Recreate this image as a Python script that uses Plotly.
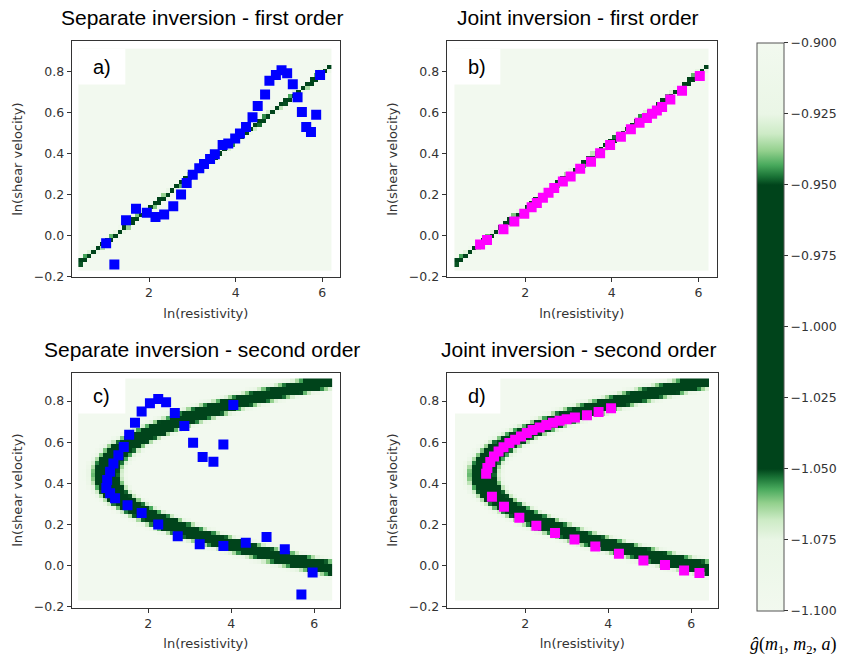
import numpy as np
import plotly.graph_objects as go

# ---------------------------------------------------------------
# Petrophysical relations between m1 = ln(resistivity) and
# m2 = ln(shear velocity)
# ---------------------------------------------------------------
LINE_INTERCEPT = -0.198      # first order: m2 = a0 + a1*m1
LINE_SLOPE = 0.1645
PARAB_X0 = 0.98              # second order: m1 = x0 + c*(m2 - y0)^2
PARAB_Y0 = 0.443
PARAB_C = 26.0

# ---------------------------------------------------------------
# Inversion results (m1, m2 pairs)
# ---------------------------------------------------------------
sep1_x = [1.01, 1.20, 1.47, 1.70, 1.95, 2.15, 2.35, 2.56, 2.74, 2.87, 3.01,
          3.16, 3.27, 3.41, 3.52, 3.70, 3.83, 3.99, 4.10, 4.24, 4.39, 4.51,
          4.68, 4.78, 4.93, 5.06, 5.19, 5.32, 5.43, 5.53, 5.63, 5.74, 5.86,
          5.95]
sep1_y = [-0.038, -0.142, 0.073, 0.129, 0.110, 0.089, 0.102, 0.142, 0.199,
          0.255, 0.295, 0.327, 0.348, 0.372, 0.395, 0.440, 0.448, 0.472,
          0.496, 0.528, 0.576, 0.630, 0.686, 0.753, 0.781, 0.805, 0.790,
          0.737, 0.673, 0.601, 0.528, 0.504, 0.588, 0.781]

joint1_x = [0.96, 1.12, 1.50, 1.75, 1.98, 2.15, 2.27, 2.41, 2.54, 2.67, 2.87,
            3.05, 3.27, 3.52, 3.73, 3.96, 4.21, 4.44, 4.64, 4.81, 4.93, 5.04,
            5.16, 5.35, 5.62, 6.03]
joint1_y = [-0.045, -0.023, 0.030, 0.067, 0.105, 0.137, 0.158, 0.183, 0.207,
            0.231, 0.263, 0.287, 0.324, 0.359, 0.400, 0.440, 0.480, 0.517,
            0.549, 0.572, 0.593, 0.609, 0.625, 0.662, 0.705, 0.777]

sep2_x = [2.04, 2.24, 2.43, 1.84, 1.68, 1.54, 1.41, 1.28, 1.16, 1.08, 1.01,
          0.99, 1.08, 1.20, 1.50, 1.84, 2.24, 2.71, 3.24, 3.81, 4.35, 4.85,
          5.29, 5.96, 5.69, 2.64, 2.87, 3.08, 3.31, 3.57, 3.81, 4.05]
sep2_y = [0.790, 0.810, 0.794, 0.749, 0.694, 0.636, 0.576, 0.536, 0.496,
          0.456, 0.416, 0.376, 0.351, 0.327, 0.292, 0.255, 0.199, 0.142,
          0.102, 0.094, 0.110, 0.138, 0.078, -0.035, -0.142, 0.742, 0.678,
          0.597, 0.528, 0.504, 0.588, 0.781]

joint2_x = [1.06, 1.09, 1.16, 1.25, 1.36, 1.48, 1.62, 1.76, 1.90, 2.04, 2.18,
            2.35, 2.51, 2.67, 2.83, 3.00, 3.20, 3.49, 3.77, 4.07,
            1.20, 1.49, 1.86, 2.27, 2.72, 3.19, 3.69, 4.26, 4.85, 5.37, 5.83,
            6.20]
joint2_y = [0.446, 0.474, 0.503, 0.530, 0.554, 0.575, 0.596, 0.612, 0.628,
            0.644, 0.659, 0.671, 0.683, 0.694, 0.704, 0.712, 0.720, 0.731,
            0.747, 0.765,
            0.334, 0.285, 0.232, 0.192, 0.157, 0.125, 0.092, 0.056, 0.023,
            0.001, -0.025, -0.038]

# colour bar of the relation misfit g(m1, m2, a)
cbar_vals = [-0.9, -0.925, -0.95, -0.975, -1.0, -1.025, -1.05, -1.075, -1.1]
cbar_text = ["\u22120.900", "\u22120.925", "\u22120.950", "\u22120.975",
             "\u22121.000", "\u22121.025", "\u22121.050", "\u22121.075",
             "\u22121.100"]

panel_titles = ["Separate inversion - first order",
                "Joint inversion - first order",
                "Separate inversion - second order",
                "Joint inversion - second order"]
panel_tags = ["a)", "b)", "c)", "d)"]

# ---------------------------------------------------------------
# Figure geometry (pixels)
# ---------------------------------------------------------------
W, H = 844, 668


def fx(px):
    return px / W


def fy(py):
    return 1 - py / H


frames = [  # x0, x1, y0(top), y1(bottom)
    (71.7, 340.0, 41.7, 280.0),
    (446.7, 716.7, 41.7, 280.0),
    (71.7, 340.0, 376.7, 614.0),
    (446.7, 717.7, 376.7, 614.0),
]
xranges = [[0.215, 6.41], [0.19, 6.42], [0.155, 6.62], [0.11, 6.64]]
yranges = [[-0.2034, 0.946], [-0.2034, 0.946], [-0.206, 0.938], [-0.206, 0.938]]
CBAR_TOP, CBAR_BOTTOM = 43.3, 611.0
TAG_W, TAG_H = 47, 36


# ---------------------------------------------------------------
# Misfit surfaces
# ---------------------------------------------------------------
def grid(x0, x1, nx, y0, y1, ny):
    xs = np.linspace(x0, x1, nx)
    ys = np.linspace(y0, y1, ny)
    X, Y = np.meshgrid(xs, ys)
    return xs, ys, X, Y


def g_linear(X, Y):
    d = Y - (LINE_INTERCEPT + LINE_SLOPE * X)
    return np.clip(-1.0 + 4.6 * d, -1.1, -0.9)


def g_quadratic(X, Y):
    F = X - (PARAB_X0 + PARAB_C * (Y - PARAB_Y0) ** 2)
    slope = 2 * PARAB_C * (Y - PARAB_Y0)
    d = F / np.sqrt(1 + 0.0087 * slope ** 2)
    return np.clip(-1.0 + 0.185 * d, -1.1, -0.9)


xs1, ys1, X1, Y1 = grid(0.42, 6.17, 58, -0.16, 0.90, 54)
xs2, ys2, X2, Y2 = grid(0.36, 6.37, 61, -0.16, 0.90, 54)
Z1 = g_linear(X1, Y1)
Z2 = g_quadratic(X2, Y2)

greens = [
    [0.0, "#f2f9ef"], [0.125, "#eaf6e6"], [0.16, "#cdebc6"],
    [0.19, "#93d08d"], [0.215, "#48a95c"], [0.235, "#1a7336"],
    [0.25, "#00441b"], [0.75, "#00441b"], [0.765, "#1a7336"],
    [0.785, "#48a95c"], [0.81, "#93d08d"], [0.84, "#cdebc6"],
    [0.875, "#eaf6e6"], [1.0, "#f2f9ef"],
]

fig = go.Figure()

heat = [(xs1, ys1, Z1), (xs1, ys1, Z1), (xs2, ys2, Z2), (xs2, ys2, Z2)]
points = [(sep1_x, sep1_y, "#0000ff"), (joint1_x, joint1_y, "#ff00ff"),
          (sep2_x, sep2_y, "#0000ff"), (joint2_x, joint2_y, "#ff00ff")]

for i in range(4):
    sfx = "" if i == 0 else str(i + 1)
    xs, ys, Z = heat[i]
    fig.add_trace(go.Heatmap(
        x=xs, y=ys, z=Z, coloraxis="coloraxis", zsmooth=False,
        xaxis="x" + sfx, yaxis="y" + sfx, hoverinfo="skip"))
    px_, py_, col = points[i]
    fig.add_trace(go.Scatter(
        x=px_, y=py_, mode="markers",
        marker=dict(symbol="square", size=10, color=col, line=dict(width=0)),
        xaxis="x" + sfx, yaxis="y" + sfx, showlegend=False))

tick_font = dict(family="DejaVu Sans", size=12.5, color="#333333")
label_font = dict(family="DejaVu Sans", size=13, color="#333333")
layout = dict(
    width=W, height=H, margin=dict(l=0, r=0, t=0, b=0),
    paper_bgcolor="white", plot_bgcolor="white", showlegend=False,
    coloraxis=dict(
        cmin=-1.1, cmax=-0.9, colorscale=greens,
        colorbar=dict(
            x=fx(757.3), xanchor="left", xpad=0,
            y=fy(CBAR_TOP), yanchor="top", ypad=0,
            len=(CBAR_BOTTOM - CBAR_TOP + 6) / H, lenmode="fraction",
            thickness=27, thicknessmode="pixels",
            outlinewidth=1, outlinecolor="#555555",
            tickvals=cbar_vals, ticktext=cbar_text, ticks="outside",
            ticklen=4, tickcolor="#333333", tickfont=tick_font,
        ),
    ),
)

annotations = []
shapes = []
for i in range(4):
    sfx = "" if i == 0 else str(i + 1)
    x0, x1, y0, y1 = frames[i]
    axstyle = dict(showline=True, mirror=True, linecolor="#333333",
                   linewidth=1, showgrid=False, zeroline=False,
                   ticks="outside", ticklen=4, tickcolor="#333333",
                   tickfont=tick_font)
    layout["xaxis" + sfx] = dict(
        domain=[fx(x0), fx(x1)], range=xranges[i], anchor="y" + sfx,
        dtick=2, tick0=0,
        title=dict(text="ln(resistivity)", font=label_font, standoff=9),
        **axstyle)
    layout["yaxis" + sfx] = dict(
        domain=[fy(y1), fy(y0)], range=yranges[i], anchor="x" + sfx,
        dtick=0.2, tick0=0, tickformat=".1f",
        title=dict(text="ln(shear velocity)", font=label_font, standoff=8),
        **axstyle)
    cx = (x0 + x1) / 2
    # panel title
    annotations.append(dict(
        text=panel_titles[i], xref="paper", yref="paper",
        x=fx(cx - 4), y=fy(y0 - 24), xanchor="center", yanchor="middle",
        showarrow=False,
        font=dict(family="Liberation Sans, Arial", size=21, color="black")))
    # panel tag on a white patch
    bx, by = x0 + 6.6, y0 + (7.6 if i < 2 else 5.3)
    shapes.append(dict(
        type="rect", xref="paper", yref="paper", layer="above",
        x0=fx(bx), x1=fx(bx + TAG_W), y0=fy(by + TAG_H), y1=fy(by),
        fillcolor="white", line=dict(width=0)))
    annotations.append(dict(
        text=panel_tags[i], xref="paper", yref="paper",
        x=fx(bx + TAG_W / 2), y=fy(by + TAG_H / 2),
        xanchor="center", yanchor="middle", showarrow=False,
        font=dict(family="Liberation Sans, Arial", size=20, color="black")))

annotations.append(dict(
    text="<i>\u011d</i>(<i>m</i><sub>1</sub>, <i>m</i><sub>2</sub>, <i>a</i>)",
    xref="paper", yref="paper", x=fx(793), y=fy(652),
    xanchor="center", yanchor="middle", showarrow=False,
    font=dict(family="Liberation Serif, DejaVu Serif", size=18,
              color="black")))

layout["annotations"] = annotations
layout["shapes"] = shapes
fig.update_layout(**layout)
fig.write_html("out.html")
